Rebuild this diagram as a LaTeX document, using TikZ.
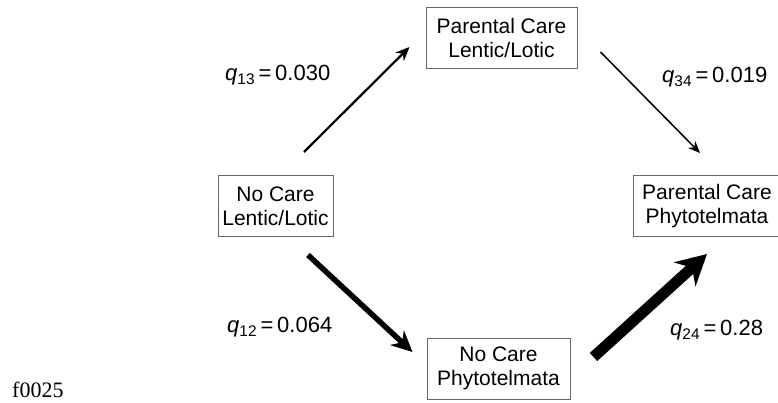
\documentclass[tikz,border=0pt]{standalone}
\usepackage{fontspec}
\setmainfont{Liberation Sans}
\newfontfamily\tagfont{Liberation Serif}
\usetikzlibrary{arrows.meta, positioning, calc}

\begin{document}
\begin{tikzpicture}[x=1pt, y=-1pt,
	carebox/.style={rectangle, draw=black!60, line width=1pt, minimum height=61pt, inner sep=0pt, align=center, font=\fontsize{21}{24}\selectfont},
	ratelabel/.style={anchor=west, inner sep=0pt, font=\fontsize{22}{24}\selectfont},
	thinarrow/.style={-{Stealth[length=12pt, width=10pt]}, line width=1.5pt},
	midarrow/.style={-{Stealth[length=14pt, width=12pt]}, line width=2.2pt},
	thickarrow/.style={-{Stealth[length=21pt, width=20pt]}, line width=5.5pt},
	fatarrow/.style={-{Stealth[length=30pt, width=32pt]}, line width=11pt}
	]
	
	\useasboundingbox (0,0) rectangle (778,402);
	
	\node[carebox, minimum width=115pt] (nolentic) at (275.5,206) {No Care\\ Lentic/Lotic};
	\node[carebox, minimum width=151pt] (carelentic) at (501.5,37.5) {Parental Care\\ Lentic/Lotic};
	\node[carebox, minimum width=143pt] (nophyto) at (498.5,368.5) {No Care\\ Phytotelmata};
	\node[carebox, minimum width=148pt] (carephyto) at (707,206) {Parental Care\\ Phytotelmata};
	
	%Arrow ends
	\coordinate (q13from) at ($(nolentic.north)+(28.5,-23)$);
	\coordinate (q13to) at ($(carelentic.west)+(-16,9.5)$);
	\coordinate (q34from) at ($(carelentic.east)+(23,14.5)$);
	\coordinate (q34to) at ($(carephyto.north)+(-7,-22)$);
	\coordinate (q12from) at ($(nolentic.south)+(32.5,18)$);
	\coordinate (q12to) at ($(nophyto.west)+(-14,-16.5)$);
	\coordinate (q24from) at ($(nophyto.east)+(23,-11.5)$);
	\coordinate (q24to) at ($(carephyto.south)+(0,17)$);
	
	\draw[midarrow] (q13from) -- (q13to);
	\draw[thinarrow] (q34from) -- (q34to);
	\draw[thickarrow] (q12from) -- (q12to);
	\draw[fatarrow] (q24from) -- (q24to);
	
	\node[ratelabel] (r13) at (225,75) {\textit{q}\textsubscript{13}\,=\,0.030};
	\node[ratelabel] (r34) at (662,77) {\textit{q}\textsubscript{34}\,=\,0.019};
	\node[ratelabel] (r12) at (227,327) {\textit{q}\textsubscript{12}\,=\,0.064};
	\node[ratelabel] (r24) at (670,330) {\textit{q}\textsubscript{24}\,=\,0.28};
	
	\node[anchor=west, inner sep=0pt, font=\tagfont\fontsize{22}{24}\selectfont] (tag) at (12,390) {f0025};
\end{tikzpicture}
\end{document}
